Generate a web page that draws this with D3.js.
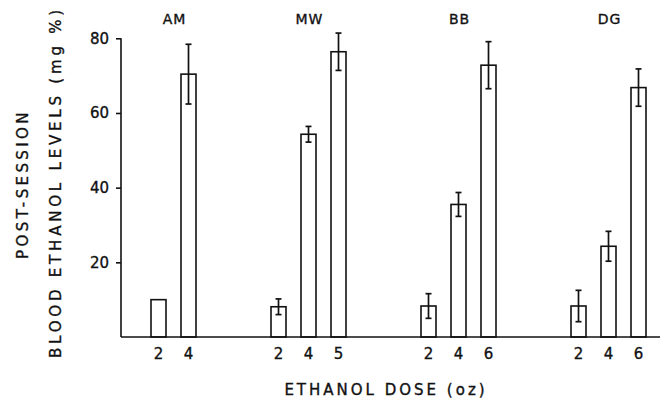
<!DOCTYPE html>
<html>
<head>
<meta charset="utf-8">
<script src="https://cdn.jsdelivr.net/npm/d3@7"></script>
<style>
  body { margin: 0; background: #fff; }
  text { font-family: "DejaVu Sans", sans-serif; fill: #111; stroke: #111; stroke-width: 0.35px; }
  .tick text { font-size: 15px; }
  .title { font-size: 15px; letter-spacing: 3px; }
  .group { font-size: 14px; letter-spacing: 1px; }
</style>
</head>
<body>
<div id="chart"></div>
<script>
/* data */
const subjects = ["AM", "AM", "MW", "MW", "MW", "BB", "BB", "BB", "DG", "DG", "DG"];
const doses = ["2", "4", "2", "4", "5", "2", "4", "6", "2", "4", "6"];
const means = [10, 70.4, 8.1, 54.3, 76.4, 8.3, 35.5, 72.8, 8.3, 24.3, 66.8];
const errors = [0, 8, 2.1, 2.1, 5, 3.3, 3.2, 6.3, 4.2, 4, 5];
const yTicks = [20, 40, 60, 80];

const width = 664, height = 401;
const svg = d3.select("#chart").append("svg")
    .attr("width", width)
    .attr("height", height);

// slot index for each bar: 1 step inside a subject, 3 steps between subjects
let slot = -1;
const data = subjects.map(function(s, i) {
    slot += (i > 0 && s !== subjects[i - 1]) ? 3 : 1;
    return {subject: s, dose: doses[i], mean: means[i], err: errors[i], slot: slot};
});

const xScale = d3.scaleLinear().domain([0, 16]).range([158.5, 638.5]);
const yScale = d3.scaleLinear().domain([0, 80]).range([337, 38.3]);
const barW = 15;

/* y axis */
svg.append("g")
    .attr("class", "axis")
    .attr("transform", "translate(121,0)")
    .call(d3.axisLeft(yScale).tickValues(yTicks).tickSize(5).tickPadding(7))
    .call(function(g) {
        g.select(".domain").attr("d", `M0,${yScale(0)}V${yScale(80)}`)
            .attr("stroke", "#111").attr("stroke-width", 1.6);
        g.selectAll(".tick line").attr("stroke", "#111").attr("stroke-width", 1.6);
    });

/* bars */
svg.selectAll("rect.bar")
    .data(data)
    .enter()
    .append("rect")
    .attr("class", "bar")
    .attr("x", function(d) { return xScale(d.slot) - barW / 2; })
    .attr("y", function(d) { return yScale(d.mean); })
    .attr("width", barW)
    .attr("height", function(d) { return yScale(0) - yScale(d.mean); })
    .attr("fill", "#fff")
    .attr("stroke", "#111")
    .attr("stroke-width", 1.6);

/* error bars */
const eb = svg.selectAll("g.err")
    .data(data.filter(function(d) { return d.err > 0; }))
    .enter()
    .append("g")
    .attr("class", "err")
    .attr("stroke", "#111")
    .attr("stroke-width", 1.7);

eb.append("line")
    .attr("x1", function(d) { return xScale(d.slot); })
    .attr("x2", function(d) { return xScale(d.slot); })
    .attr("y1", function(d) { return yScale(d.mean - d.err); })
    .attr("y2", function(d) { return yScale(d.mean + d.err); });

[1, -1].forEach(function(sign) {
    eb.append("line")
        .attr("x1", function(d) { return xScale(d.slot) - 3; })
        .attr("x2", function(d) { return xScale(d.slot) + 3; })
        .attr("y1", function(d) { return yScale(d.mean + sign * d.err); })
        .attr("y2", function(d) { return yScale(d.mean + sign * d.err); });
});

/* baseline */
svg.append("line")
    .attr("x1", 121).attr("x2", 660)
    .attr("y1", yScale(0)).attr("y2", yScale(0))
    .attr("stroke", "#111").attr("stroke-width", 1.6);

/* dose labels under bars */
svg.selectAll("text.dose")
    .data(data)
    .enter()
    .append("text")
    .attr("class", "dose")
    .attr("x", function(d) { return xScale(d.slot); })
    .attr("y", 359)
    .attr("text-anchor", "middle")
    .style("font-size", "15px")
    .text(function(d) { return d.dose; });

/* subject labels */
const groupNames = Array.from(new Set(subjects));
svg.selectAll("text.group")
    .data(groupNames)
    .enter()
    .append("text")
    .attr("class", "group")
    .attr("x", function(g) {
        const slots = data.filter(function(d) { return d.subject === g; }).map(function(d) { return d.slot; });
        return xScale(d3.mean(slots)) + 1;
    })
    .attr("y", 24)
    .attr("text-anchor", "middle")
    .text(function(g) { return g; });

/* axis titles */
svg.append("text")
    .attr("class", "title")
    .attr("x", 386)
    .attr("y", 395)
    .attr("text-anchor", "middle")
    .text("ETHANOL DOSE (oz)");

svg.append("text")
    .attr("class", "title")
    .attr("transform", "translate(28,184) rotate(-90)")
    .attr("text-anchor", "middle")
    .style("letter-spacing", "3.4px")
    .text("POST-SESSION");

svg.append("text")
    .attr("class", "title")
    .attr("transform", "translate(61,182) rotate(-90)")
    .attr("text-anchor", "middle")
    .style("letter-spacing", "3.8px")
    .text("BLOOD ETHANOL LEVELS (mg %)");
</script>
</body>
</html>
